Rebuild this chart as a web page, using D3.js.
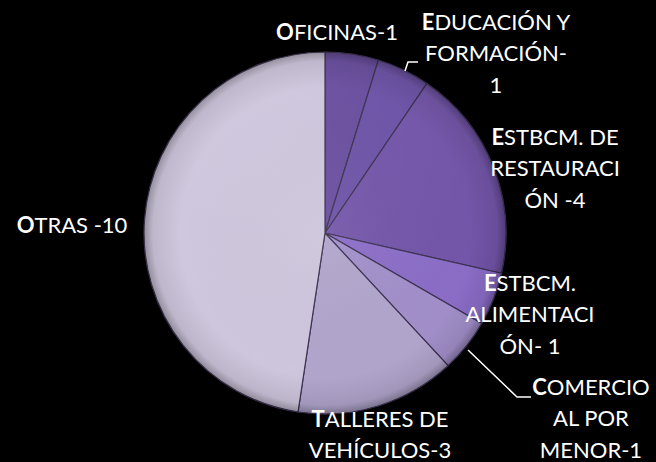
<!DOCTYPE html>
<html><head><meta charset="utf-8">
<script src="https://cdn.jsdelivr.net/npm/d3@7"></script>
<style>html,body{margin:0;padding:0;background:#000;}svg{display:block;}</style>
</head><body>
<svg id="c" width="656" height="462"></svg>
<script>
// ---- data ----
const categories = ["Oficinas", "Educación y formación", "Estbcm. de restauración", "Estbcm. alimentación", "Comercio al por menor", "Talleres de vehículos", "Otras"];
const values = [1, 1, 4, 1, 1, 3, 10];
const labelLines = [
  ["OFICINAS-1"],
  ["EDUCACIÓN Y", "FORMACIÓN-", "1"],
  ["ESTBCM. DE", "RESTAURACI", "ÓN -4"],
  ["ESTBCM.", "ALIMENTACI", "ÓN- 1"],
  ["COMERCIO", "AL POR", "MENOR-1"],
  ["TALLERES DE", "VEHÍCULOS-3"],
  ["OTRAS -10"]
];
const colors = ["#684c9e", "#6c51a6", "#7254a8", "#8a6cc6", "#a18ec9", "#b0a4cb", "#cdc5dc"];

// ---- layout ----
const svg = d3.select("#c");
const cx = 325, cy = 233, R = 181;
const labelPos = [[337, 31], [496, 21], [555, 136], [530, 282], [591, 386], [380, 418], [72, 224]];
const lineH = 31.5;

const defs = svg.append("defs");
const rg = defs.append("radialGradient").attr("id", "shade").attr("cx", "50%").attr("cy", "50%").attr("r", "50%");
rg.append("stop").attr("offset", "0%").attr("stop-color", "#fff").attr("stop-opacity", 0.04);
rg.append("stop").attr("offset", "80%").attr("stop-color", "#000").attr("stop-opacity", 0.0);
rg.append("stop").attr("offset", "95%").attr("stop-color", "#000").attr("stop-opacity", 0.08);
rg.append("stop").attr("offset", "100%").attr("stop-color", "#000").attr("stop-opacity", 0.3);
const hl = defs.append("radialGradient").attr("id", "hl").attr("cx", "30%").attr("cy", "25%").attr("r", "75%");
hl.append("stop").attr("offset", "0%").attr("stop-color", "#fff").attr("stop-opacity", 0.06);
hl.append("stop").attr("offset", "100%").attr("stop-color", "#fff").attr("stop-opacity", 0);

const pie = d3.pie().sort(null).value(d => d)(values);
const arc = d3.arc().innerRadius(0).outerRadius(R);
const g = svg.append("g").attr("transform", `translate(${cx},${cy})`);
g.selectAll("path.s").data(pie).join("path").attr("class", "s")
  .attr("d", arc).attr("fill", (d, i) => colors[i])
  .attr("stroke", "#3b3050").attr("stroke-width", 1.2).attr("stroke-linejoin", "round");
g.append("circle").attr("r", R).attr("fill", "url(#shade)");
g.append("circle").attr("r", R).attr("fill", "url(#hl)");

// leader lines
svg.append("polyline").attr("points", "405,71 408,62 418,62")
  .attr("fill", "none").attr("stroke", "#fff").attr("stroke-width", 1.5);
svg.append("polyline").attr("points", "468,350 517,397 531,397")
  .attr("fill", "none").attr("stroke", "#fff").attr("stroke-width", 1.5);

// labels
labelLines.forEach((lines, i) => {
  const [x, y] = labelPos[i];
  lines.forEach((ln, j) => {
    const t = svg.append("text").attr("x", x).attr("y", y + j * lineH)
      .attr("text-anchor", "middle").attr("dominant-baseline", "central")
      .attr("fill", "#fff").attr("font-family", "Lato, 'Open Sans', sans-serif").attr("font-size", 22);
    if (j === 0) {
      t.append("tspan").attr("font-weight", "bold").text(ln[0]);
      t.append("tspan").text(ln.slice(1));
    } else {
      t.text(ln);
    }
  });
});
</script>
</body></html>
